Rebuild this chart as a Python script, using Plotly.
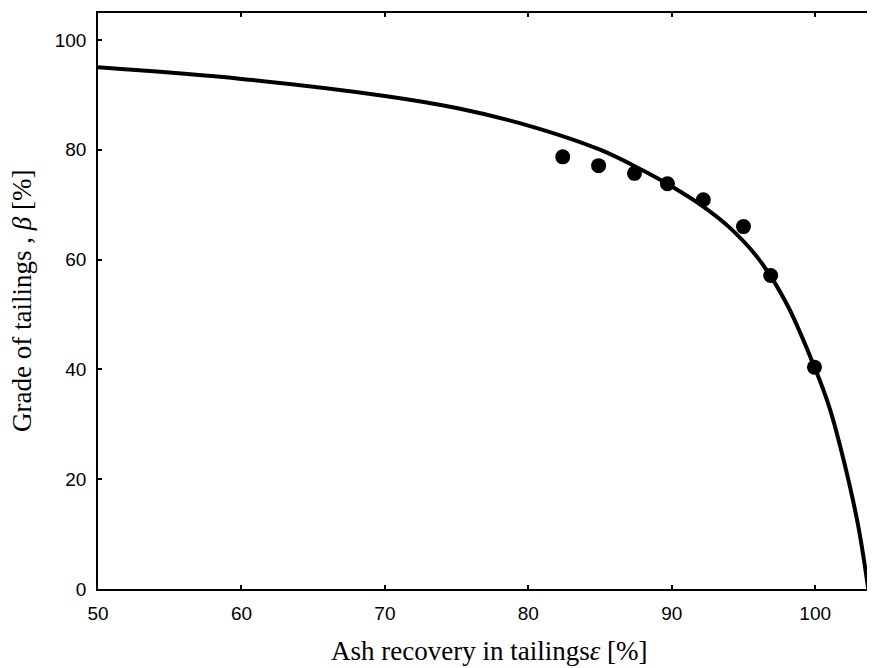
import plotly.graph_objects as go

# Fitted curve
curve_x = [50, 60, 70, 75, 80, 85, 88, 90, 92, 94, 96, 98, 100, 101, 102, 103, 103.7]
curve_y = [95.0, 92.9, 89.8, 87.6, 84.4, 80.0, 76.2, 73.3, 70.0, 65.9, 60.3, 52.0, 40.1, 33.0, 23.3, 11.5, 0.0]

# Measured points
pts_x = [82.4, 84.9, 87.4, 89.7, 92.2, 95.0, 96.9, 99.95]
pts_y = [78.7, 77.1, 75.7, 73.8, 70.9, 66.0, 57.1, 40.4]

x_ticks = [50, 60, 70, 80, 90, 100]
y_ticks = [0, 20, 40, 60, 80, 100]

x_title = "Ash recovery in tailings<i>ε</i> [%]"
y_title = "Grade of tailings , <i>β</i> [%]"

fig = go.Figure()
fig.add_trace(go.Scatter(x=curve_x, y=curve_y, mode="lines",
                         line=dict(color="black", width=4, shape="spline", smoothing=1.0),
                         showlegend=False, hoverinfo="skip"))
fig.add_trace(go.Scatter(x=pts_x, y=pts_y, mode="markers",
                         marker=dict(color="black", size=15),
                         showlegend=False))

axis_common = dict(showgrid=False, zeroline=False, showline=True, linecolor="black",
                   linewidth=1.5, ticks="inside", ticklen=4, tickwidth=1.5,
                   tickcolor="black", mirror="ticks", automargin=False,
                   tickfont=dict(family="Liberation Sans, Arial, sans-serif", size=19, color="black"))

title_font = dict(family="Liberation Serif, Times New Roman, serif", size=27, color="black")

# The page body adds an 8px offset, so the figure is sized to fill the rest of the window.
fig.update_layout(
    width=867, height=660,
    margin=dict(l=90, r=1, t=5, b=79, autoexpand=False),
    paper_bgcolor="white", plot_bgcolor="white",
    xaxis=dict(range=[50, 104.1], tickvals=x_ticks, ticklabelstandoff=6, **axis_common),
    yaxis=dict(range=[0, 104.9], tickvals=y_ticks, ticklabelstandoff=6, **axis_common),
    annotations=[
        dict(text=x_title, xref="paper", yref="paper", x=0.505, y=0,
             xanchor="center", yanchor="middle", yshift=-62, showarrow=False,
             font=title_font),
        dict(text=y_title, xref="paper", yref="paper", x=0, y=0.5,
             xanchor="center", yanchor="middle", xshift=-76, textangle=-90,
             showarrow=False, font=title_font),
    ],
)

fig.write_html("out.html")
